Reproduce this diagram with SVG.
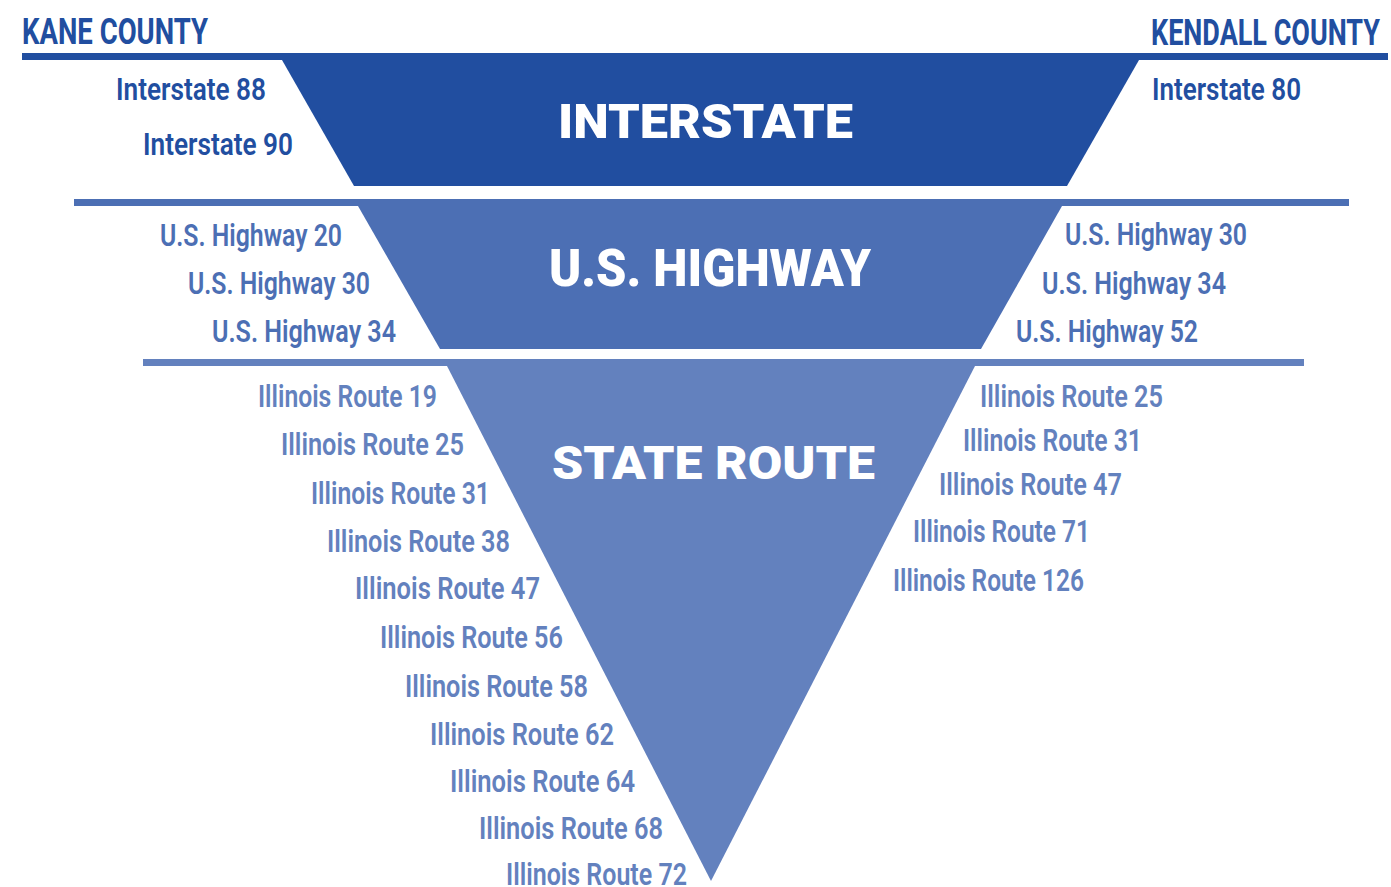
<svg xmlns="http://www.w3.org/2000/svg" width="1391" height="887" viewBox="0 0 1391 887">
<style>
.lbl{font-family:"Roboto","Liberation Sans",sans-serif;font-weight:600;font-size:32px}
.hdr{font-family:"Roboto","Liberation Sans",sans-serif;font-weight:700;font-size:37px;fill:#214EA0}
.ttl{font-family:"Roboto","Liberation Sans",sans-serif;font-weight:900;fill:#ffffff}
.c1{fill:#214EA0}
.c2{fill:#4C6FB4}
.c3{fill:#6381BE}
</style>
<rect width="1391" height="887" fill="#ffffff"/>
<g id="dividers">
<rect class="c1" x="22" y="53" width="1366" height="7"/>
<rect class="c2" x="74" y="199" width="1275" height="7"/>
<rect class="c3" x="143" y="359" width="1161" height="7"/>
</g>
<g id="headers">
<text class="hdr" x="22" y="44" textLength="186" lengthAdjust="spacingAndGlyphs">KANE COUNTY</text>
<text class="hdr" x="1151" y="45" textLength="229" lengthAdjust="spacingAndGlyphs">KENDALL COUNTY</text>
</g>
<g id="interstate">
<polygon class="c1" points="282,60 1139,60 1067,186 354,186"/>
<text class="ttl" x="558" y="138" font-size="49" textLength="295" lengthAdjust="spacingAndGlyphs">INTERSTATE</text>
<g class="lbl c1">
<text x="116" y="100" textLength="150" lengthAdjust="spacingAndGlyphs">Interstate 88</text>
<text x="143" y="155" textLength="150" lengthAdjust="spacingAndGlyphs">Interstate 90</text>
<text x="1152" y="100" textLength="149" lengthAdjust="spacingAndGlyphs">Interstate 80</text>
</g>
</g>
<g id="us-highway">
<polygon class="c2" points="358,206 1062,206 981,349 440,349"/>
<text class="ttl" x="549" y="286" font-size="52" textLength="322" lengthAdjust="spacingAndGlyphs">U.S. HIGHWAY</text>
<g class="lbl c2">
<text x="160" y="246" textLength="182" lengthAdjust="spacingAndGlyphs">U.S. Highway 20</text>
<text x="188" y="294" textLength="182" lengthAdjust="spacingAndGlyphs">U.S. Highway 30</text>
<text x="212" y="342" textLength="184" lengthAdjust="spacingAndGlyphs">U.S. Highway 34</text>
<text x="1065" y="245" textLength="182" lengthAdjust="spacingAndGlyphs">U.S. Highway 30</text>
<text x="1042" y="294" textLength="184" lengthAdjust="spacingAndGlyphs">U.S. Highway 34</text>
<text x="1016" y="342" textLength="182" lengthAdjust="spacingAndGlyphs">U.S. Highway 52</text>
</g>
</g>
<g id="state-route">
<polygon class="c3" points="447,366 975,366 711,881"/>
<text class="ttl" x="552" y="479" font-size="46" textLength="323" lengthAdjust="spacingAndGlyphs">STATE ROUTE</text>
<g class="lbl c3">
<text x="258" y="407" textLength="179" lengthAdjust="spacingAndGlyphs">Illinois Route 19</text>
<text x="281" y="455" textLength="183" lengthAdjust="spacingAndGlyphs">Illinois Route 25</text>
<text x="311" y="504" textLength="179" lengthAdjust="spacingAndGlyphs">Illinois Route 31</text>
<text x="327" y="552" textLength="183" lengthAdjust="spacingAndGlyphs">Illinois Route 38</text>
<text x="355" y="599" textLength="185" lengthAdjust="spacingAndGlyphs">Illinois Route 47</text>
<text x="380" y="648" textLength="183" lengthAdjust="spacingAndGlyphs">Illinois Route 56</text>
<text x="405" y="697" textLength="183" lengthAdjust="spacingAndGlyphs">Illinois Route 58</text>
<text x="430" y="745" textLength="184" lengthAdjust="spacingAndGlyphs">Illinois Route 62</text>
<text x="450" y="792" textLength="185" lengthAdjust="spacingAndGlyphs">Illinois Route 64</text>
<text x="479" y="839" textLength="184" lengthAdjust="spacingAndGlyphs">Illinois Route 68</text>
<text x="506" y="885" textLength="181" lengthAdjust="spacingAndGlyphs">Illinois Route 72</text>
<text x="980" y="407" textLength="183" lengthAdjust="spacingAndGlyphs">Illinois Route 25</text>
<text x="963" y="451" textLength="179" lengthAdjust="spacingAndGlyphs">Illinois Route 31</text>
<text x="939" y="495" textLength="183" lengthAdjust="spacingAndGlyphs">Illinois Route 47</text>
<text x="913" y="542" textLength="177" lengthAdjust="spacingAndGlyphs">Illinois Route 71</text>
<text x="893" y="591" textLength="191" lengthAdjust="spacingAndGlyphs">Illinois Route 126</text>
</g>
</g>
</svg>
